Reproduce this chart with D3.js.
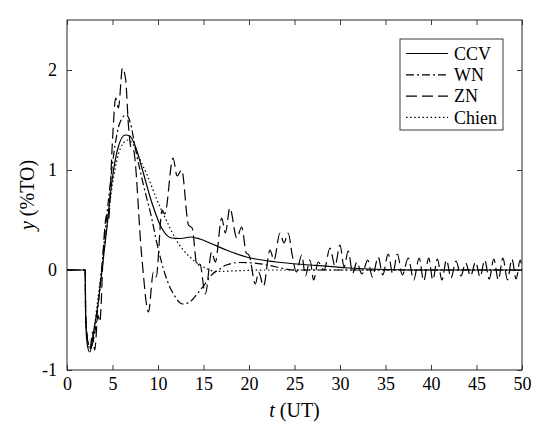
<!DOCTYPE html>
<html>
<head>
<meta charset="utf-8">
<script src="https://cdn.jsdelivr.net/npm/d3@7"></script>
<style>
  body { margin: 0; background: #fff; }
  .lbl { font-family: 'Liberation Serif', 'Times New Roman'; fill: #000; }
</style>
</head>
<body>
<div id="chart"></div>
<script>
// Tick values and axis ranges
const xTicks = [0, 5, 10, 15, 20, 25, 30, 35, 40, 45, 50];
const yTicks = [-1, 0, 1, 2];
const xDomain = [0, 50];
const yDomain = [-1, 2.5];

// Series names (legend order)
const seriesNames = ["CCV", "WN", "ZN", "Chien"];

// CCV response (t, y)
const ccvT = [0, 2.0, 2.05, 2.25, 2.5, 2.7, 2.9, 3.4, 3.85, 4.4, 4.9, 5.6, 6.4, 6.9, 7.5, 8.2, 9.3, 10.4, 11.5, 12.5, 13.6, 14.6, 15.7, 17.5, 19.7, 23, 26.7, 31, 35, 40, 50];
const ccvY = [0, 0, -0.5, -0.76, -0.82, -0.76, -0.63, -0.35, 0, 0.44, 0.86, 1.22, 1.35, 1.34, 1.24, 1.03, 0.68, 0.42, 0.32, 0.315, 0.33, 0.31, 0.27, 0.2, 0.13, 0.08, 0.05, 0.02, 0.005, 0, 0];

// WN response (t, y)
const wnT = [0, 2.0, 2.05, 2.3, 2.6, 2.9, 3.1, 3.5, 4.0, 4.6, 5.2, 5.8, 6.5, 7.0, 7.5, 8.4, 9.3, 9.85, 10.8, 11.9, 12.7, 13.5, 14.2, 15.0, 16.0, 16.8, 17.5, 19.0, 20.5, 22.0, 23.5, 25.0, 50];
const wnY = [0, 0, -0.45, -0.72, -0.78, -0.7, -0.6, -0.28, 0.2, 0.74, 1.2, 1.47, 1.55, 1.46, 1.22, 0.85, 0.52, 0.28, -0.05, -0.27, -0.34, -0.32, -0.25, -0.16, -0.04, 0.01, 0.05, 0.075, 0.07, 0.05, 0.02, 0, 0];

// ZN response (t, y)
const znT = [0, 2.0, 2.05, 2.3, 2.55, 2.8, 3.05, 3.4, 3.6, 4.05, 4.35, 4.55, 5.0, 5.35, 5.65, 6.1, 6.45, 6.75, 7.05, 7.3, 8.2, 8.95, 9.5, 9.8, 10.45, 10.75, 11.65, 12.1, 12.6, 13.35, 13.75, 14.3, 14.6, 15.2, 15.9, 16.3, 17.0, 17.4, 17.9, 18.65, 19.2, 19.7, 20.0, 20.7, 21.05, 21.6, 22.3, 22.75, 23.4, 23.85, 24.3, 24.75, 25.2, 25.8, 26.2, 26.7, 27.1, 27.6, 28.25, 28.9, 29.45, 30.0, 30.45, 30.9, 31.4, 31.85, 32.4, 33.05, 33.55, 34.2, 34.7, 35.3, 35.8, 36.3, 36.85, 37.5, 38.1, 38.7, 39.2, 39.75, 40.2, 40.7, 41.2, 41.7, 42.2, 42.75, 43.3, 43.8, 44.35, 44.9, 45.4, 45.9, 46.4, 46.9, 47.4, 47.9, 48.4, 48.9, 49.35, 49.8, 50];
const znY = [0, 0, -0.45, -0.72, -0.78, -0.62, -0.8, -0.45, -0.52, 0.3, 0.55, 0.5, 1.3, 1.72, 1.62, 2.02, 1.9, 1.45, 1.22, 1.2, 0.15, -0.42, -0.02, -0.07, 0.6, 0.56, 1.12, 0.94, 1.0, 0.45, 0.42, 0.04, 0.06, -0.24, 0.18, 0.08, 0.52, 0.37, 0.62, 0.32, 0.43, 0.17, 0.15, -0.14, -0.02, -0.16, 0.2, 0.1, 0.37, 0.27, 0.37, 0.15, -0.02, 0.15, -0.06, 0.1, -0.1, 0.08, 0.0, 0.22, 0.04, 0.25, 0.03, 0.19, -0.03, 0.08, -0.04, 0.1, -0.07, 0.13, -0.05, 0.16, -0.04, 0.16, -0.05, 0.12, -0.1, 0.12, -0.11, 0.12, -0.1, 0.11, -0.1, 0.1, -0.08, 0.09, -0.06, 0.07, -0.06, 0.08, -0.07, 0.1, -0.09, 0.11, -0.1, 0.12, -0.1, 0.11, -0.09, 0.1, 0.0];

// Chien response (t, y)
const chienT = [0, 2.0, 2.05, 2.3, 2.55, 2.8, 3.3, 3.85, 4.4, 5.0, 5.6, 6.2, 6.7, 7.3, 8.0, 8.9, 9.8, 10.9, 12.0, 13.5, 15.0, 16.4, 18.0, 22.0, 50];
const chienY = [0, 0, -0.45, -0.72, -0.79, -0.72, -0.36, 0.04, 0.44, 0.86, 1.14, 1.27, 1.3, 1.25, 1.11, 0.93, 0.72, 0.5, 0.3, 0.13, 0.03, -0.015, -0.01, 0, 0];

// Layout
const width = 550, height = 435;
const plot = { left: 67, right: 522, top: 20, bottom: 370 };
const fontName = "Liberation Serif";

const svg = d3.select("#chart")
  .append("svg")
  .attr("width", width)
  .attr("height", height)
  .attr("font-family", fontName);

const x = d3.scaleLinear().domain(xDomain).range([plot.left, plot.right]);
const y = d3.scaleLinear().domain(yDomain).range([plot.bottom, plot.top]);

// Clip lines to the axes box
svg.append("clipPath").attr("id", "clip")
  .append("rect")
  .attr("x", plot.left).attr("y", plot.top)
  .attr("width", plot.right - plot.left)
  .attr("height", plot.bottom - plot.top);

const axisColor = "#262626";
const fmt = d => String(d);

// Put the serif font on a text element in every way the renderer understands
function serifText(sel, size) {
  sel.attr("class", "lbl")
    .attr("font-family", fontName)
    .attr("font-size", size)
    .style("font-family", "'Liberation Serif'")
    .style("font-size", size + "px");
}

function styleAxis(g) {
  g.attr("font-family", fontName).attr("font-size", null);
  g.select(".domain").remove();
  g.selectAll(".tick line").attr("stroke", axisColor).attr("stroke-width", 0.9);
  g.selectAll(".tick text").call(serifText, 18).attr("fill", "#000");
}

// Bottom / top axes (ticks pointing inward)
svg.append("g")
  .attr("transform", `translate(0,${plot.bottom})`)
  .call(d3.axisBottom(x).tickValues(xTicks).tickSize(-5).tickSizeOuter(0).tickPadding(7).tickFormat(fmt))
  .call(styleAxis);
svg.append("g")
  .attr("transform", `translate(0,${plot.top})`)
  .call(d3.axisTop(x).tickValues(xTicks).tickSize(-5).tickSizeOuter(0).tickFormat(""))
  .call(styleAxis);

// Left / right axes
svg.append("g")
  .attr("transform", `translate(${plot.left},0)`)
  .call(d3.axisLeft(y).tickValues(yTicks).tickSize(-5).tickSizeOuter(0).tickPadding(10).tickFormat(fmt))
  .call(styleAxis);
svg.append("g")
  .attr("transform", `translate(${plot.right},0)`)
  .call(d3.axisRight(y).tickValues(yTicks).tickSize(-5).tickSizeOuter(0).tickFormat(""))
  .call(styleAxis);

// Axes box
svg.append("rect")
  .attr("x", plot.left).attr("y", plot.top)
  .attr("width", plot.right - plot.left)
  .attr("height", plot.bottom - plot.top)
  .attr("fill", "none")
  .attr("stroke", axisColor)
  .attr("stroke-width", 1);

// Series
const series = [
  { name: seriesNames[0], t: ccvT, v: ccvY, dash: null },
  { name: seriesNames[1], t: wnT, v: wnY, dash: "8,3,2,3" },
  { name: seriesNames[2], t: znT, v: znY, dash: "11,5" },
  { name: seriesNames[3], t: chienT, v: chienY, dash: "1.5,2.6" }
];

const line = d3.line()
  .x(d => x(d[0]))
  .y(d => y(d[1]))
  .curve(d3.curveMonotoneX);

const lines = svg.append("g").attr("clip-path", "url(#clip)");
series.forEach(s => {
  lines.append("path")
    .datum(s.t.map((t, i) => [t, s.v[i]]))
    .attr("d", line)
    .attr("fill", "none")
    .attr("stroke", "#000")
    .attr("stroke-width", 1.2)
    .attr("stroke-dasharray", s.dash);
});

// Legend
const legend = svg.append("g");
legend.append("rect")
  .attr("x", 400).attr("y", 39)
  .attr("width", 103).attr("height", 91)
  .attr("fill", "#fff")
  .attr("stroke", axisColor)
  .attr("stroke-width", 0.9);

series.forEach((s, i) => {
  const ly = 53.5 + i * 21.3;
  legend.append("line")
    .attr("x1", 406).attr("x2", 448)
    .attr("y1", ly).attr("y2", ly)
    .attr("stroke", "#000")
    .attr("stroke-width", 1.2)
    .attr("stroke-dasharray", s.dash);
  legend.append("text")
    .attr("x", 454).attr("y", ly)
    .attr("dy", "0.35em")
    .call(serifText, 18)
    .text(s.name);
});

// Axis labels
const xLabel = svg.append("text")
  .attr("x", (plot.left + plot.right) / 2)
  .attr("y", 417)
  .attr("text-anchor", "middle")
  .call(serifText, 20);
xLabel.append("tspan").style("font-style", "italic").text("t");
xLabel.append("tspan").text(" (UT)");

const yLabel = svg.append("text")
  .attr("transform", `translate(34,${(plot.top + plot.bottom) / 2}) rotate(-90)`)
  .attr("text-anchor", "middle")
  .call(serifText, 20);
yLabel.append("tspan").style("font-style", "italic").text("y");
yLabel.append("tspan").text(" (%TO)");
</script>
</body>
</html>
